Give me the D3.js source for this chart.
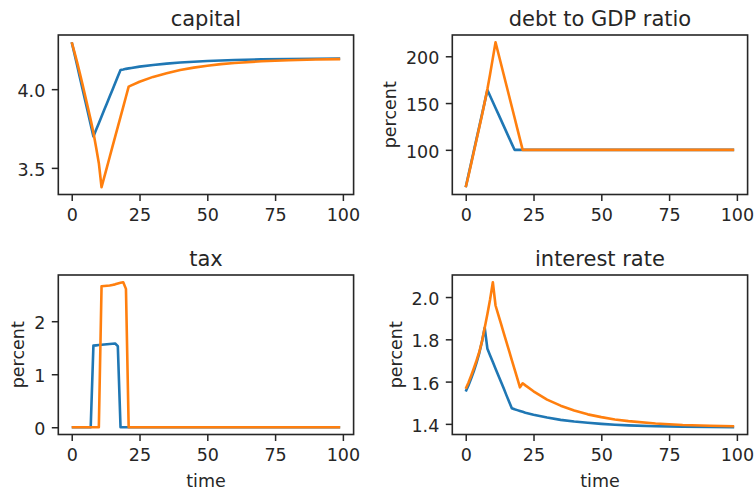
<!DOCTYPE html>
<html lang="en">
<head>
<meta charset="UTF-8">
<script src="https://d3js.org/d3.v7.min.js"></script>
<title>capital, debt, tax, interest rate</title>
<style>
  body { margin: 0; background: #fff; }
  svg { display: block; font-family: "DejaVu Sans", sans-serif; }
  .tick text { fill: #262626; }
  .tick line { stroke: #262626; stroke-width: 1.5; }
</style>
</head>
<body>
<svg width="755" height="492"></svg>
<script>
// time steps (sampled more densely where the paths bend)
const time = [0,1,2,3,4,5,6,7,8,9,10,11,12,13,14,15,16,17,18,19,20,21,22,
              25,30,35,40,45,50,55,60,70,80,90,99]

const capitalBlue = [4.298,4.225,4.150,4.075,4.000,3.925,3.850,3.775,3.700,3.742,3.784,3.826,3.869,3.911,3.953,3.995,4.037,4.080,4.122,4.125,4.129,4.132,4.135,
                     4.143,4.153,4.162,4.169,4.174,4.179,4.182,4.185,4.189,4.191,4.193,4.194]
const capitalOrange = [4.298,4.235,4.170,4.100,4.030,3.955,3.880,3.805,3.725,3.630,3.530,3.377,3.441,3.505,3.569,3.633,3.697,3.760,3.824,3.888,3.952,4.016,4.024,
                       4.047,4.078,4.101,4.122,4.137,4.149,4.159,4.166,4.177,4.184,4.188,4.191]

const debtBlue = [60,73,86,99,112,125,138,151,164,157.6,151.2,144.8,138.4,132,125.6,119.2,112.8,106.4,100,100,100,100,100,
                  100,100,100,100,100,100,100,100,100,100,100,100]
const debtOrange = [60,72,85,98,111,124,137,151,165,181,198,215,203.5,192,180.5,169,157.5,146,134.5,123,111.5,100,100,
                    100,100,100,100,100,100,100,100,100,100,100,100]

const taxBlue = [0,0,0,0,0,0,0,0,1.54,1.545,1.55,1.555,1.56,1.565,1.57,1.575,1.58,1.53,0,0,0,0,0,
                 0,0,0,0,0,0,0,0,0,0,0,0]
const taxOrange = [0,0,0,0,0,0,0,0,0,0,0,2.66,2.665,2.67,2.675,2.685,2.695,2.71,2.725,2.735,2.61,0,0,
                   0,0,0,0,0,0,0,0,0,0,0,0]

const rateBlue = [1.553,1.582,1.614,1.650,1.690,1.735,1.790,1.855,1.755,1.724,1.693,1.661,1.630,1.599,1.568,1.536,1.505,1.474,1.469,1.465,1.461,1.457,1.453,
                  1.443,1.430,1.419,1.411,1.405,1.400,1.396,1.393,1.389,1.387,1.385,1.384]
const rateOrange = [1.566,1.595,1.628,1.663,1.700,1.740,1.790,1.855,1.920,1.990,2.070,1.960,1.917,1.874,1.831,1.788,1.745,1.702,1.659,1.616,1.573,1.592,1.582,
                    1.554,1.515,1.486,1.463,1.445,1.432,1.421,1.413,1.402,1.395,1.391,1.389]

const titles = ["capital", "debt to GDP ratio", "tax", "interest rate"]
const xTicks = [0, 25, 50, 75, 100]
const yTicks = [[3.5, 4.0], [100, 150, 200], [0, 1, 2], [1.4, 1.6, 1.8, 2.0]]
const yFormats = [".1f", "d", "d", ".1f"]
const yLabels = [null, "percent", "percent", "percent"]
const xLabels = [null, null, "time", "time"]
const series = [[capitalBlue, capitalOrange], [debtBlue, debtOrange], [taxBlue, taxOrange], [rateBlue, rateOrange]]

const colors = ["#1f77b4", "#ff7f0e"]
const ink = "#262626"
const font = "DejaVu Sans"

const cols = [58.3, 452.3], rows = [35, 275]
const pw = 295.3, ph = 159.5

const svg = d3.select("svg")

// matplotlib style 5% padding around the data
const padded = (lo, hi) => { const m = (hi - lo) * 0.05; return [lo - m, hi + m] }

series.forEach((pair, i) => {
  const left = cols[i % 2], top = rows[Math.floor(i / 2)]
  const g = svg.append("g").attr("transform", `translate(${left},${top})`)

  const x = d3.scaleLinear().domain(padded(d3.min(time), d3.max(time))).range([0, pw])
  const all = pair.flat()
  const y = d3.scaleLinear().domain(padded(d3.min(all), d3.max(all))).range([ph, 0])

  const line = d3.line().x((d, k) => x(time[k])).y(d => y(d))
  pair.forEach((vals, s) => {
    g.append("path")
      .attr("d", line(vals))
      .attr("fill", "none")
      .attr("stroke", colors[s])
      .attr("stroke-width", 2.6)
      .attr("stroke-linejoin", "round")
  })

  const xa = g.append("g").attr("transform", `translate(0,${ph})`)
    .call(d3.axisBottom(x).tickValues(xTicks).tickFormat(d3.format("d")).tickSize(6.5).tickPadding(7.5))
  const ya = g.append("g")
    .call(d3.axisLeft(y).tickValues(yTicks[i]).tickFormat(d3.format(yFormats[i])).tickSize(6.5).tickPadding(6.5))
  ya.selectAll(".tick text").attr("dy", "0.43em")
  ;[xa, ya].forEach(a => {
    a.attr("font-family", font).attr("font-size", 17.5)
    a.select(".domain").remove()
  })

  g.append("rect")
    .attr("width", pw).attr("height", ph)
    .attr("fill", "none").attr("stroke", ink).attr("stroke-width", 1.6)

  g.append("text")
    .attr("x", pw / 2).attr("y", -9)
    .attr("text-anchor", "middle")
    .attr("fill", ink).attr("font-size", 21)
    .text(titles[i])

  if (yLabels[i]) {
    let minX = 0
    ya.selectAll(".tick text").each(function () { minX = Math.min(minX, this.getBBox().x) })
    g.append("text")
      .attr("transform", `translate(${minX - 5.6 - 4.1},${ph / 2}) rotate(-90)`)
      .attr("text-anchor", "middle")
      .attr("fill", ink).attr("font-size", 17.5)
      .text(yLabels[i])
  }
  if (xLabels[i]) {
    g.append("text")
      .attr("x", pw / 2).attr("y", ph + 52)
      .attr("text-anchor", "middle")
      .attr("fill", ink).attr("font-size", 17.5)
      .text(xLabels[i])
  }
})
</script>
</body>
</html>
